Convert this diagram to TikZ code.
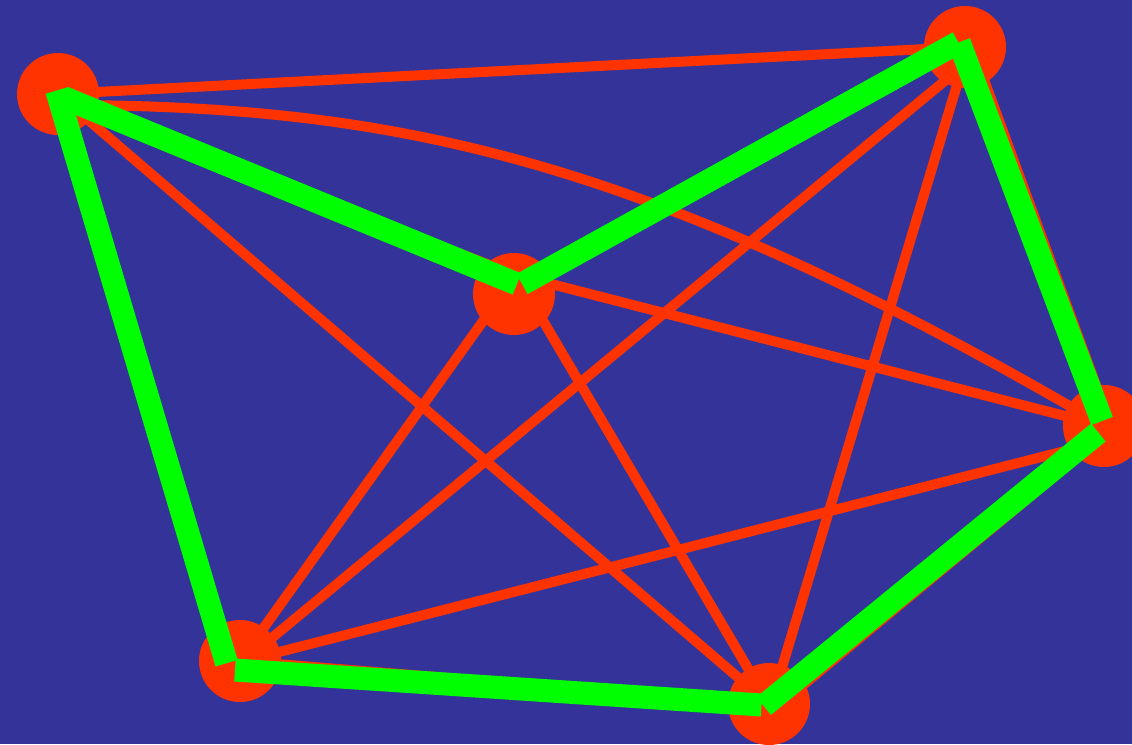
\documentclass[tikz,border=0pt]{standalone}
\definecolor{bg}{RGB}{51,51,153}
\definecolor{nred}{RGB}{255,51,0}
\definecolor{tour}{RGB}{0,255,0}
\begin{document}
\begin{tikzpicture}[x=1pt,y=-1pt,
  vtx/.style={circle,fill=nred,minimum size=82pt,inner sep=0pt},
  redge/.style={draw=nred,line width=10pt},
  gedge/.style={draw=tour,line width=23pt,line cap=butt}]
\clip (0,0) rectangle (1132,744);
\fill[bg] (0,0) rectangle (1132,744);
% vertices
\node[vtx] (A) at (58,94) {};
\node[vtx] (B) at (965,47) {};
\node[vtx] (C) at (514,294) {};
\node[vtx] (D) at (1104,426) {};
\node[vtx] (E) at (240,661) {};
\node[vtx] (F) at (769,704) {};
% attachment points of the red edges
\coordinate (a0) at (58,105);
\coordinate (aC) at (58,100);
\coordinate (cP) at (516,275);
\coordinate (cB) at (514,285);
\coordinate (bC) at (965,44);
\coordinate (bD) at (972,47);
\coordinate (dB) at (1111,426);
\coordinate (bE) at (970,60);
\coordinate (eB) at (244,661);
\coordinate (bF) at (966,55);
\coordinate (fB) at (771,704);
\coordinate (fD) at (773,710);
\coordinate (dF) at (1108,432);
\coordinate (eD) at (240,662);
\coordinate (dE) at (1104,441);
\coordinate (eA) at (232,661);
% red edges
\draw[redge] (A.center) -- (B.center);
\draw[redge] (aC) -- (cP);
\draw[redge] (a0) .. controls (400,105) and (650,160) .. (D.center);
\draw[redge] (A.center) -- (eA);
\draw[redge] (A.center) -- (F.center);
\draw[redge] (bC) -- (cB);
\draw[redge] (bD) -- (dB);
\draw[redge] (bE) -- (eB);
\draw[redge] (bF) -- (fB);
\draw[redge] (cP) -- (D.center);
\draw[redge] (cP) -- (E.center);
\draw[redge] (cP) -- (F.center);
\draw[redge] (dE) -- (eD);
\draw[redge] (fD) -- (dF);
\draw[redge] (E.center) -- (F.center);
% tour end points
\coordinate (gA1) at (63.6,97.6);
\coordinate (gC1) at (517,284);
\coordinate (gC2) at (522,284);
\coordinate (gB1) at (958.3,42.4);
\coordinate (gB2) at (959.2,42.3);
\coordinate (gD1) at (1102,421);
\coordinate (gD2) at (1098.3,432.5);
\coordinate (gF1) at (763.7,706);
\coordinate (gF2) at (761.5,705);
\coordinate (gE1) at (235,670);
\coordinate (gE2) at (226.6,663.2);
\coordinate (gA2) at (56.7,90.5);
% green tour
\draw[gedge] (gA1) -- (gC1);
\draw[gedge] (gC2) -- (gB1);
\draw[gedge] (gB2) -- (gD1);
\draw[gedge] (gD2) -- (gF1);
\draw[gedge] (gF2) -- (gE1);
\draw[gedge] (gE2) -- (gA2);
\end{tikzpicture}
\end{document}
